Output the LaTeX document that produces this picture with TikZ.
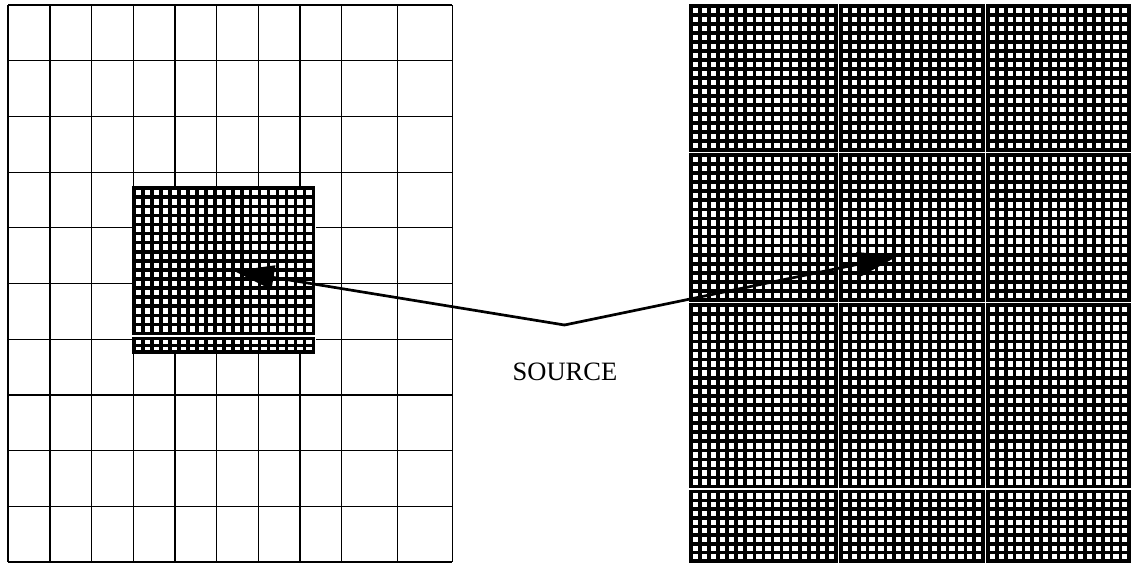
\documentclass[tikz,border=0pt]{standalone}
\usepackage{fontspec}
\setmainfont{Liberation Serif}
\usetikzlibrary{arrows.meta}

% one rectangular block of fine mesh: x0 y0 x1 y1 columns rows
\newcommand\meshblock[6]{%
  \pgfmathsetmacro\mbdx{(#3-#1)/#5}%
  \pgfmathsetmacro\mbdy{(#4-#2)/#6}%
  \foreach \i in {0,...,#5} {\draw[fine] ({#1+\i*\mbdx},#2) -- ({#1+\i*\mbdx},#4);}%
  \foreach \j in {0,...,#6} {\draw[fine] (#1,{#2+\j*\mbdy}) -- (#3,{#2+\j*\mbdy});}%
}

\tikzset{
  coarse/.style={line width=1.2pt, draw=black},
  fine/.style={line width=3.6pt, draw=black, line cap=rect},
  arr/.style={line width=2.7pt, line cap=round, line join=round,
    -{Triangle[length=40pt,width=24pt]}},
  lbl/.style={font=\fontsize{26.5}{30}\selectfont, inner sep=0pt}
}

\begin{document}
\begin{tikzpicture}[x=1pt,y=-1pt]
  \useasboundingbox (0,0) rectangle (1136,563);
  \fill[white] (0,0) rectangle (1136,563);

  % coarse mesh
  \foreach \x in {8,50,91.5,133.3,175,216.7,258.3,300,341.7,397.7,452.3}
    \draw[coarse] (\x,5) -- (\x,562);
  \foreach \k in {0,...,10}
    \draw[coarse] (8,{5+\k*55.7}) -- (452.3,{5+\k*55.7});

  % refined patch on the coarse mesh
  \fill[white] (132,186) rectangle (315.5,354);
  \meshblock{134.2}{188.2}{313.4}{333.5}{20}{16}
  \meshblock{134.2}{338.5}{313.4}{352.2}{20}{2}

  % fully refined mesh
  \foreach \xa/\xb in {690.8/836, 841/983.1, 988.1/1129.2}{
    \meshblock{\xa}{6.2}{\xb}{149.8}{16}{16}
    \meshblock{\xa}{154.8}{\xb}{300.2}{16}{16}
    \meshblock{\xa}{305.2}{\xb}{486.6}{16}{20}
    \meshblock{\xa}{491.6}{\xb}{561.2}{16}{8}
  }

  % source and its two arrows
  \coordinate (src) at (564.5,325);
  \coordinate (lefttip) at (234,271);
  \coordinate (righttip) at (898,256);
  \draw[arr] (src) -- (lefttip);
  \draw[arr] (src) -- (righttip);
  \node[lbl] (label) at (565,372) {SOURCE};
\end{tikzpicture}
\end{document}
